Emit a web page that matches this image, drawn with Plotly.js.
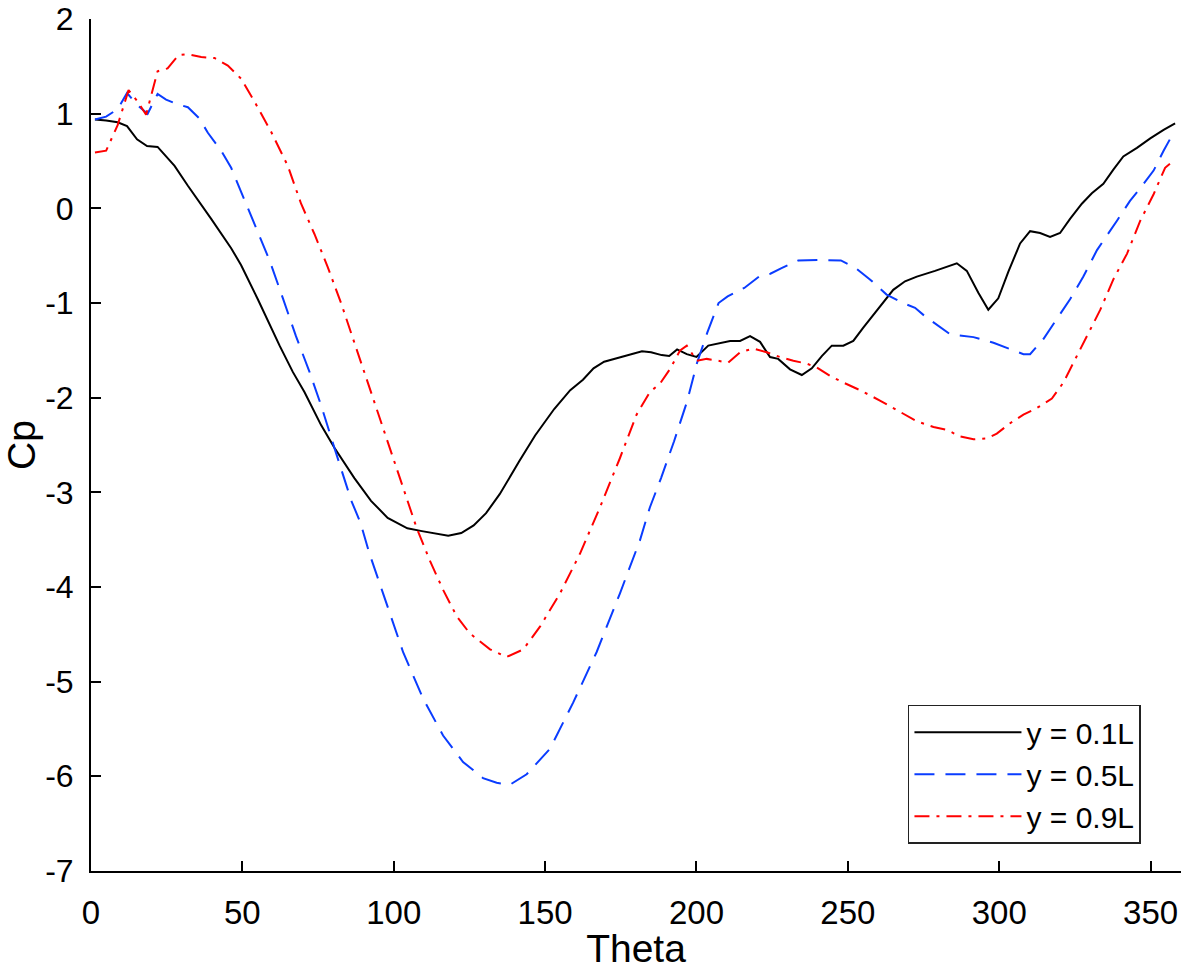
<!DOCTYPE html>
<html>
<head>
<meta charset="utf-8">
<script src="https://cdn.plot.ly/plotly-3.0.1.min.js"></script>
<style>
html,body{margin:0;padding:0;background:#fff;}
#chart{width:1181px;height:970px;}
</style>
</head>
<body>
<div id="chart"></div>
<script>
// y = 0.1L
const theta01 = [1.3,5,8.8,11.9,15.2,18.5,22,27.6,32,35.8,39.7,46.3,49.6,55.1,62.3,66.7,70.5,76,80.4,87,92.5,98,104.5,109.3,113.9,118,122.3,126.4,130.5,135,141.5,146.7,153,158.3,162.5,166,169.5,174,179,182,185,188.5,191,193.6,196.8,200,203.9,207.8,211.1,214.4,217.7,221,224.3,227,230.9,234.8,238.1,241.4,244.7,248.5,251.8,255.1,257.3,261.7,265,268.9,272.8,278.8,282.7,286,289.3,293.1,296.4,299.7,303,306.9,310.2,313.5,316.8,320.1,323.4,327.3,330.6,334.4,337.7,341,345.5,349.9,354.3,358.1];
const cp01 = [0.94,0.93,0.91,0.87,0.73,0.66,0.65,0.45,0.24,0.07,-0.11,-0.42,-0.60,-0.96,-1.45,-1.73,-1.94,-2.29,-2.53,-2.85,-3.09,-3.27,-3.38,-3.41,-3.44,-3.46,-3.43,-3.35,-3.22,-3.02,-2.67,-2.40,-2.12,-1.92,-1.81,-1.69,-1.62,-1.58,-1.53,-1.51,-1.52,-1.55,-1.56,-1.49,-1.54,-1.57,-1.45,-1.42,-1.40,-1.40,-1.35,-1.41,-1.57,-1.59,-1.70,-1.76,-1.69,-1.56,-1.45,-1.45,-1.40,-1.26,-1.17,-0.99,-0.86,-0.77,-0.72,-0.66,-0.62,-0.58,-0.66,-0.89,-1.07,-0.95,-0.67,-0.37,-0.24,-0.26,-0.30,-0.26,-0.11,0.05,0.16,0.26,0.41,0.55,0.64,0.74,0.83,0.90];

// y = 0.5L
const theta05 = [1.3,5,8.8,11.9,15.4,18.7,22,24.8,28.7,32,35.8,38.6,43,46.3,49,54,59,63.4,67.7,72.2,76,80.4,86,89,92,96.5,103.1,109.7,116.3,122.9,129.5,134,138.4,143.9,151.6,159.3,167,174.7,181.3,184.6,188.3,192.6,196.9,200.2,203.6,207.3,210.3,215.8,220.7,224.4,228.1,233.6,240.3,247.7,252.6,257.3,262.8,268.3,272.2,275.5,279.4,283.8,291.5,298.1,304.7,308,310.2,314.6,319,323.4,327.8,332.3,338.9,343.2,347.7,351,354.3,358.1];
const cp05 = [0.94,0.97,1.05,1.22,1.09,1.00,1.21,1.15,1.10,1.07,0.95,0.80,0.61,0.43,0.22,-0.16,-0.55,-0.95,-1.35,-1.73,-2.08,-2.53,-3.09,-3.32,-3.65,-4.07,-4.69,-5.18,-5.57,-5.85,-6.02,-6.07,-6.09,-5.98,-5.71,-5.22,-4.69,-4.07,-3.51,-3.16,-2.85,-2.46,-2.04,-1.63,-1.31,-1.00,-0.93,-0.84,-0.72,-0.69,-0.63,-0.55,-0.545,-0.55,-0.63,-0.75,-0.91,-1.00,-1.05,-1.14,-1.23,-1.33,-1.36,-1.42,-1.50,-1.54,-1.54,-1.38,-1.17,-0.96,-0.72,-0.44,-0.13,0.08,0.26,0.40,0.61,0.83];

// y = 0.9L
const theta09 = [1.3,5,8.8,12.4,15.4,18.2,22,25.3,28.9,32,36.4,40.8,45.2,49.6,54,59.5,65,69.4,73.8,78.2,82.6,87,91.5,94.5,98.5,103.1,107.5,111.9,116.3,120.8,125.1,131.8,137.3,142.8,148.3,154.9,161.5,168.1,174.7,180.2,184.6,188,191.2,194.6,196.8,200.1,203.4,207.2,210.5,214.4,218.8,223.2,227.6,232,236.4,239.7,244.1,248.5,254,260.6,267.2,272.8,278.3,282.7,287.1,291.5,295.9,299.2,303.6,308,312.4,317.4,321.2,325.1,329,333.4,337.7,342.2,346.6,351,354.8,358.1];
const cp09 = [0.59,0.61,0.88,1.25,1.13,0.99,1.45,1.48,1.62,1.63,1.60,1.59,1.51,1.37,1.13,0.81,0.45,0.05,-0.27,-0.62,-1.00,-1.42,-1.84,-2.12,-2.52,-2.95,-3.37,-3.72,-4.03,-4.31,-4.49,-4.66,-4.74,-4.66,-4.42,-4.07,-3.65,-3.16,-2.64,-2.18,-1.94,-1.85,-1.70,-1.50,-1.45,-1.61,-1.59,-1.61,-1.63,-1.52,-1.48,-1.52,-1.57,-1.61,-1.64,-1.68,-1.77,-1.84,-1.92,-2.03,-2.15,-2.25,-2.31,-2.34,-2.41,-2.44,-2.43,-2.38,-2.27,-2.18,-2.11,-2.01,-1.84,-1.59,-1.35,-1.07,-0.75,-0.48,-0.13,0.15,0.43,0.52];

const seriesNames = ['y = 0.1L','y = 0.5L','y = 0.9L'];
const xTicks = [0,50,100,150,200,250,300,350];
const yTicks = [-7,-6,-5,-4,-3,-2,-1,0,1,2];

const font = 'Liberation Sans, Arial, Helvetica, sans-serif';

const traces = [
  {x: theta01, y: cp01, name: seriesNames[0], mode: 'lines',
   line: {color: '#000000', width: 2}},
  {x: theta05, y: cp05, name: seriesNames[1], mode: 'lines',
   line: {color: '#0a3cff', width: 2, dash: '20px,11px'}},
  {x: theta09, y: cp09, name: seriesNames[2], mode: 'lines',
   line: {color: '#ff0000', width: 2, dash: '15px,7px,3px,7px'}}
];

const layout = {
  width: 1181, height: 970,
  margin: {l: 91, r: 0, t: 19, b: 99, pad: 0},
  paper_bgcolor: '#ffffff', plot_bgcolor: '#ffffff',
  font: {family: font, color: '#000', size: 32},
  showlegend: true,
  legend: {
    x: 0.7495, y: 0.195, xanchor: 'left', yanchor: 'top',
    bgcolor: '#ffffff', bordercolor: '#222', borderwidth: 1.5,
    font: {family: font, size: 30, color: '#000'},
    itemwidth: 107, tracegroupgap: 0
  },
  xaxis: {
    range: [0, 360.05], tickvals: xTicks, ticktext: xTicks.map(String),
    showgrid: false, zeroline: false, showline: true, linecolor: '#000', linewidth: 2,
    ticks: 'inside', ticklen: 10, tickwidth: 2, tickcolor: '#000',
    tickfont: {family: font, size: 33, color: '#000'},
    ticklabelstandoff: 11, ticklabeloverflow: 'allow',
    title: {text: 'Theta', font: {family: font, size: 39, color: '#000'}, standoff: 18},
    automargin: false, mirror: false
  },
  yaxis: {
    range: [-7.002, 2.002], tickvals: yTicks, ticktext: yTicks.map(String),
    showgrid: false, zeroline: false, showline: true, linecolor: '#000', linewidth: 2,
    ticks: 'inside', ticklen: 10, tickwidth: 2, tickcolor: '#000',
    tickfont: {family: font, size: 32, color: '#000'},
    ticklabelstandoff: 9, ticklabeloverflow: 'allow',
    title: {text: 'Cp', font: {family: font, size: 39, color: '#000'}, standoff: 6},
    automargin: false, mirror: false
  }
};

Plotly.newPlot('chart', traces, layout, {displayModeBar: false, staticPlot: true});
</script>
</body>
</html>
